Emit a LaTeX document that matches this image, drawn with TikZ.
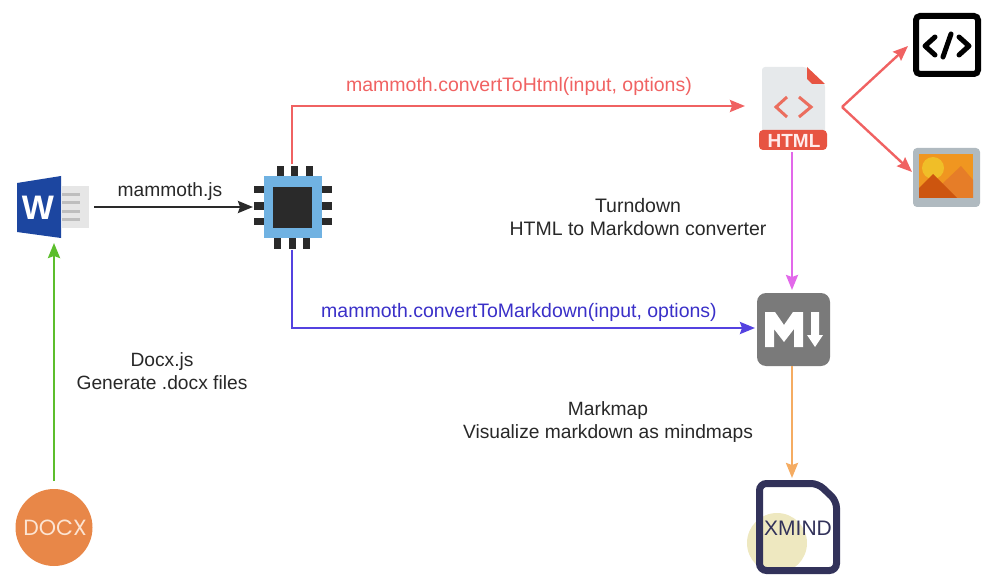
\documentclass[tikz,border=0pt]{standalone}
\usepackage{fontspec}
\setmainfont{Liberation Sans}
\newfontfamily\docxfont{Poppins}
\usetikzlibrary{arrows.meta}
\definecolor{linkred}{RGB}{240,98,98}
\definecolor{linkblue}{RGB}{84,66,224}
\definecolor{textblue}{RGB}{58,48,200}
\definecolor{linkpink}{RGB}{226,104,234}
\definecolor{linkorange}{RGB}{245,172,98}
\definecolor{linkgreen}{RGB}{92,190,44}
\definecolor{darktext}{RGB}{40,40,40}
\definecolor{wordblue}{RGB}{28,70,160}
\definecolor{wordgrey}{RGB}{230,230,230}
\definecolor{wordline}{RGB}{190,190,190}
\definecolor{chipblue}{RGB}{112,178,226}
\definecolor{chipdark}{RGB}{42,42,42}
\definecolor{htmlred}{RGB}{231,84,66}
\definecolor{pagegrey}{RGB}{230,233,235}
\definecolor{framegrey}{RGB}{176,186,192}
\definecolor{imgorange}{RGB}{240,150,32}
\definecolor{imgsun}{RGB}{240,190,40}
\definecolor{imghill}{RGB}{230,125,40}
\definecolor{imgpeak}{RGB}{205,85,15}
\definecolor{mdgrey}{RGB}{122,122,122}
\definecolor{xmindnavy}{RGB}{50,50,90}
\definecolor{xmindsun}{RGB}{238,232,192}
\definecolor{docxorange}{RGB}{232,135,72}
\definecolor{docxtext}{RGB}{252,228,210}
\tikzset{
    icon/.style={inner sep=0pt,outer sep=0pt,minimum width=#1},
    link/.style={-{Stealth[length=15pt,width=12pt,inset=2pt]},line width=2.4pt},
    caption/.style={font=\fontsize{19.2}{23}\selectfont,align=center,text=darktext,inner sep=0pt},
    widecaption/.style={caption,font=\fontsize{19.5}{23}\selectfont}
}
\begin{document}
\begin{tikzpicture}[x=1pt,y=-1pt]
    \useasboundingbox (0,0) rectangle (998,588);

    \fill[wordgrey] (62,186) rectangle (89,228);
    \foreach \y in {195,203,211,219}
        \fill[wordline] (62,\y-1.5) rectangle (80,\y+1.5);
    \fill[wordblue] (17,183) -- (61,176) -- (61,238) -- (17,232) -- cycle;
    \node[font=\bfseries\fontsize{34}{34}\selectfont,text=white,inner sep=0pt](wordletter) at (38,207.5) {W};

    \fill[chipblue] (264,176) rectangle (322,238);
    \fill[chipdark] (273,187) rectangle (312,228);
    \foreach \x in {280,294,309}
        \fill[chipdark] (\x-3.5,166) rectangle (\x+3.5,176);
    \foreach \x in {277,292,306}
        \fill[chipdark] (\x-3.5,238) rectangle (\x+3.5,249);
    \foreach \y in {190,206,221} {
        \fill[chipdark] (254,\y-3.5) rectangle (264,\y+3.5);
        \fill[chipdark] (322,\y-3.5) rectangle (332,\y+3.5);
    }

    \fill[pagegrey,rounded corners=3pt] (762,67) -- (806,67) -- (825,84) -- (825,135) -- (762,135) -- cycle;
    \fill[htmlred] (807,67) -- (825,84) -- (812,84) -- (807,79) -- cycle;
    \fill[htmlred,rounded corners=4pt] (759,130) rectangle (827,150);
    \draw[htmlred!85!white,line width=3pt] (787,97) -- (776,107) -- (787,117) (799,97) -- (811,107) -- (799,117);
    \node[font=\bfseries\fontsize{19}{19}\selectfont,text=white!92!red,inner sep=0pt](htmlword) at (794,140.5) {HTML};

    \draw[black,line width=6pt,rounded corners=4pt] (916,16) rectangle (978,74);
    \draw[black,line width=5pt,line cap=round,line join=round] (935,37) -- (925,46) -- (935,55) (959,37) -- (969,46) -- (959,55) (951,34) -- (943,57);

    \fill[framegrey,rounded corners=4pt] (913,148) rectangle (980,207);
    \fill[imgorange] (919,154) rectangle (973,198);
    \fill[imgsun] (933,168) circle (11);
    \fill[imghill] (937,198) -- (943,183) -- (961,166) -- (973,180) -- (973,198) -- cycle;
    \fill[imgpeak] (919,188) -- (933,174) -- (957,198) -- (919,198) -- cycle;

    \fill[mdgrey,rounded corners=9pt] (757,293) rectangle (830,366);
    \fill[white] (765,312) -- (775,312) -- (784,325) -- (793,312) -- (803,312) -- (803,347) -- (794,347) -- (794,329) -- (784,342) -- (774,329) -- (774,347) -- (765,347) -- cycle;
    \fill[white] (811,312) -- (819,312) -- (819,335) -- (823,335) -- (815,347) -- (807,335) -- (811,335) -- cycle;

    \fill[xmindsun] (777,543) circle (30);
    \draw[xmindnavy,line width=7pt,rounded corners=7pt] (759.5,483.5) -- (818,483.5) -- (836.5,501) -- (836.5,570.5) -- (759.5,570.5) -- cycle;
    \node[font=\fontsize{21}{21}\selectfont,text=xmindnavy,inner sep=0pt](xmindword) at (798,528) {XMIND};

    \fill[docxorange] (54,527.5) circle (38.5);
    \node[font=\docxfont\fontsize{22}{22}\selectfont,text=docxtext,inner sep=0pt](docxword) at (55,528) {DOCX};

    \node[icon=80pt,minimum height=72pt](word) at (54,207) {};
    \node[icon=78pt,minimum height=85pt](chip) at (292,207) {};
    \node[icon=94pt,minimum height=92pt](html) at (792,106) {};
    \node[icon=74pt,minimum height=76pt](md) at (792,328) {};
    \node[icon=78pt,minimum height=94pt](xmind) at (792,525) {};
    \node[icon=78pt,minimum height=92pt](docx) at (54,527) {};
    \node[icon=78pt,minimum height=64pt](code) at (947,46) {};
    \node[icon=70pt,minimum height=60pt](image) at (947,172) {};
    \coordinate (fork) at (842,107);

    \draw[link,chipdark] (word) -- (chip);
    \draw[link,linkred] (chip.north) |- (html.west);
    \draw[link,linkblue] (chip.south) |- (md.west);
    \draw[link,linkgreen] (docx.north) -- (word.south);
    \draw[link,linkpink] (html.south) -- (md.north);
    \draw[link,linkorange] (md.south) -- (xmind.north);
    \draw[link,linkred] (fork) -- (code.west);
    \draw[link,linkred] (fork) -- (image.west);

    \node[caption](jslabel) at (170,191.5) {mammoth.js};
    \node[widecaption,text=linkred](htmllabel) at (519,86) {mammoth.convertToHtml(input, options)};
    \node[widecaption,text=textblue](mdlabel) at (519,312) {mammoth.convertToMarkdown(input, options)};
    \node[widecaption](turndownlabel) at (638,217.5) {Turndown\\HTML to Markdown converter};
    \node[caption](docxlabel) at (162,371.5) {Docx.js\\Generate .docx files};
    \node[caption](markmaplabel) at (608,422.5) {Markmap\\Visualize markdown as mindmaps};
\end{tikzpicture}
\end{document}
